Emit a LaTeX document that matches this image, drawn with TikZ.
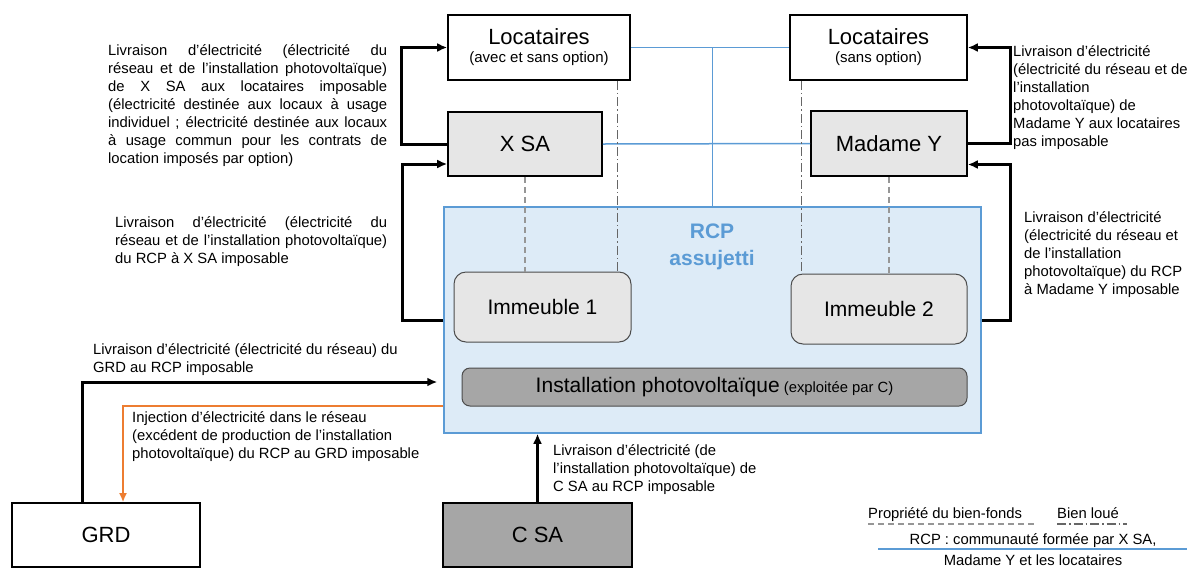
\documentclass[tikz,border=0pt]{standalone}
\usepackage{fontspec}
\setmainfont{Liberation Sans}
\usetikzlibrary{arrows.meta}
\definecolor{rcpblue}{HTML}{5B9BD5}
\definecolor{rcpfill}{HTML}{DDEBF7}
\definecolor{lightbox}{HTML}{E6E6E6}
\definecolor{darkbox}{HTML}{A6A6A6}
\definecolor{injorange}{HTML}{ED7D31}
\definecolor{propgray}{HTML}{969696}
\tikzstyle{every picture}+=[remember picture]

\begin{document}
\begin{tikzpicture}[x=1pt,y=-1pt,
    font=\fontsize{14.8}{18}\selectfont,
    box/.style={draw, line width=1.6pt, inner sep=0pt, font=\fontsize{22}{24}\selectfont},
    immbox/.style={draw=black!70, line width=1pt, rounded corners=12pt, fill=lightbox, inner sep=0pt, font=\fontsize{21}{24}\selectfont},
    txt/.style={inner sep=0pt, anchor=north west},
    flow/.style={-{Latex[length=10pt,width=9pt]}, line width=3pt},
    inject/.style={-{Latex[length=9pt,width=8pt]}, line width=2.5pt, injorange},
    rcpline/.style={rcpblue, line width=1.5pt},
    propline/.style={propgray, line width=1.2pt, dash pattern=on 6pt off 4pt},
    loueline/.style={black!60, line width=1.2pt, dash pattern=on 9pt off 3pt on 1.5pt off 3pt}]
		\useasboundingbox (0,0) rectangle (1190,574);
		% boites du haut
		\node[box, fill=white, minimum width=182, minimum height=65, align=center] (locA) at (539,47.5) {\raisebox{-2pt}{Locataires}\\[-4pt]{\fontsize{15}{15}\selectfont (avec et sans option)}};
		\node[box, fill=white, minimum width=177, minimum height=65, align=center] (locB) at (878.5,47.5) {\raisebox{-2pt}{Locataires}\\[-4pt]{\fontsize{15}{15}\selectfont (sans option)}};
		\node[box, fill=lightbox, minimum width=154, minimum height=64] (xsa) at (525,144) {X SA};
		\node[box, fill=lightbox, minimum width=156, minimum height=65] (mmy) at (889,143.5) {Madame Y};
		% RCP
		\node[draw=rcpblue, line width=1.5pt, fill=rcpfill, minimum width=537, minimum height=226, inner sep=0pt] (rcp) at (712.5,320) {};
		\node[font=\fontsize{21}{27}\selectfont\bfseries, text=rcpblue, align=center] (rcptitle) at (712,247) {RCP\\assujetti};
		\node[immbox, minimum width=177, minimum height=70] (imm1) at (542.5,307) {Immeuble 1};
		\node[immbox, minimum width=176, minimum height=70] (imm2) at (879,309) {Immeuble 2};
		\node[draw=black!70, line width=1pt, rounded corners=8pt, fill=darkbox, minimum width=505, minimum height=38, inner sep=0pt] (pv) at (714.5,387) {{\fontsize{21}{24}\selectfont Installation photovolta\"ique} (exploit\'ee par C)};
		% boites du bas
		\node[box, fill=white, minimum width=188, minimum height=64] (grd) at (106,535) {GRD};
		\node[box, fill=darkbox, minimum width=189, minimum height=64] (csa) at (537.5,535) {C SA};
		% lignes RCP
		\draw[rcpline] (locA.east) -- (locB.west);
		\draw[rcpline] (xsa.east) -- (mmy.west);
		\draw[rcpline] (locA.east -| rcp.north) -- (rcp.north);
		% propriete et bien loue
		\draw[propline] (xsa.south) -- (xsa.south |- imm1.north);
		\draw[propline] (mmy.south) -- (mmy.south |- imm2.north);
		\coordinate (louA) at ([xshift=-13pt]locA.south east);
		\coordinate (louB) at ([xshift=12pt]locB.south west);
		\draw[loueline] (louA) -- (louA |- imm1.north);
		\draw[loueline] (louB) -- (louB |- imm2.north);
		% livraisons
		\draw[flow] (xsa.west) -- ++(-46,0) |- (locA.west);
		\draw[flow] (rcp.west) -- ++(-41,0) |- ([yshift=-20pt]xsa.west);
		\draw[flow] (mmy.east) -- ++(43,0) |- (locB.east);
		\draw[flow] (rcp.east) -- ++(29,0) |- ([yshift=-21pt]mmy.east);
		\draw[flow] ([xshift=-24pt]grd.north) |- ([xshift=-6pt,yshift=-62pt]rcp.west);
		\draw[inject] ([yshift=-86pt]rcp.west) -| ([xshift=17pt]grd.north);
		\draw[flow] (csa.north) -- (csa.north |- rcp.south);
		% textes
		\node[txt, text width=279pt, align=justify] (txtxsa) at (108,44) {Livraison d’électricité (électricité du\linebreak réseau et de l’installation photovoltaïque)\linebreak de X SA aux locataires imposable\linebreak (électricité destinée aux locaux à usage\linebreak individuel ; électricité destinée aux locaux\linebreak à usage commun pour les contrats de\linebreak location imposés par option)};
		\node[txt, text width=272pt, align=justify] (txtrcpxsa) at (115,216) {Livraison d’électricité (électricité du\linebreak réseau et de l’installation photovoltaïque)\linebreak du RCP à X SA imposable};
		\node[txt, align=left] (txtmmy) at (1013,45) {Livraison d’électricité\\(électricité du réseau et de\\l’installation\\photovoltaïque) de\\Madame Y aux locataires\\pas imposable};
		\node[txt, align=left] (txtrcpmmy) at (1024,211) {Livraison d’électricité\\(électricité du réseau et\\de l’installation\\photovoltaïque) du RCP\\à Madame Y imposable};
		\node[txt, align=left] (txtgrd) at (93,343) {Livraison d’électricité (électricité du réseau) du\\GRD au RCP imposable};
		\node[txt, align=left] (txtinj) at (132,411) {Injection d’électricité dans le réseau\\(excédent de production de l’installation\\photovoltaïque) du RCP au GRD imposable};
		\node[txt, align=left] (txtcsa) at (553,444) {Livraison d’électricité (de\\l’installation photovoltaïque) de\\C SA au RCP imposable};
		% legende
		\node[anchor=base west, inner sep=0pt] (legprop) at (868,518) {Propriété du bien-fonds};
		\node[anchor=base west, inner sep=0pt] (legloue) at (1057,518) {Bien loué};
		\draw[propline] (868,524) -- (1035,524);
		\draw[loueline] (1057,524) -- (1127,524);
		\node[anchor=base, inner sep=0pt] (legrcp) at (1033,544) {RCP : communauté formée par X SA,};
		\node[anchor=base, inner sep=0pt] (legrcpb) at (1033,565) {Madame Y et les locataires};
		\draw[rcpline] (878,549) -- (1187,549);
\end{tikzpicture}
\end{document}
